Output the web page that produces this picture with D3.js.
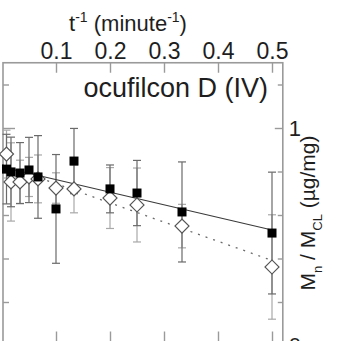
<!DOCTYPE html>
<html><head><meta charset="utf-8">
<script src="https://cdn.jsdelivr.net/npm/d3@7"></script>
<style>
html,body{margin:0;padding:0;background:#fff;}
svg{display:block;font-family:"Liberation Sans",Arial,Helvetica,sans-serif;}
</style></head>
<body>
<svg id="chart" width="338" height="341"></svg>
<script>
// ---- data ----
const tInv = [1/120, 1/60, 1/30, 1/20, 1/15, 1/10, 1/7.5, 1/5, 1/4, 1/3, 1/2];
const squareMean = [0.811, 0.798, 0.793, 0.807, 0.775, 0.628, 0.848, 0.720, 0.701, 0.614, 0.517];
const squareErr  = [0.16, 0.16, 0.14, 0.15, 0.19, 0.25, 0.15, 0.11, 0.15, 0.23, 0.28];
const diamondMean = [0.880, 0.752, 0.752, 0.775, 0.766, 0.724, 0.720, 0.678, 0.646, 0.549, 0.361];
const diamondErr  = [0.11, 0.18, 0.10, 0.09, 0.11, 0.07, 0.11, 0.14, 0.17, 0.10, 0.24];
const fitT = [0, 0.5];
const fitSquare = [0.821, 0.531];
const fitDiamond = [0.832, 0.391];
const xTicks = [0.1, 0.2, 0.3, 0.4, 0.5];
const yTicks = [0, 0.2, 0.4, 0.6, 0.8, 1.0, 1.2];
const yLabels = [0, 1];
const title = "ocufilcon D (IV)";

// ---- scales ----
const x = d3.scaleLinear().domain([0, 0.5]).range([2, 272]);
const y = d3.scaleLinear().domain([0, 1.3]).range([345.5, 62.75]);
const pL = 3, pR = x(0.52), pT = y(1.3), pB = y(0);

const svg = d3.select("#chart");
const frameColor = "#9a9a9a";
const textColor = "#1e1e1e";

// frame
svg.append("rect").attr("x", pL).attr("y", pT)
  .attr("width", pR - pL).attr("height", pB - pT)
  .attr("fill", "none").attr("stroke", frameColor).attr("stroke-width", 1.6);

// top axis (ticks point inward)
const gTop = svg.append("g").attr("transform", `translate(0,${pT})`)
  .call(d3.axisTop(x).tickValues(xTicks).tickSize(-10).tickPadding(4)
        .tickFormat(d3.format(".1f")));
gTop.select(".domain").remove();
gTop.selectAll("line").attr("stroke", frameColor).attr("stroke-width", 1.4);
gTop.selectAll("text").attr("font-size", 23).attr("fill", textColor)
  .attr("font-family", "Liberation Sans, Arial, sans-serif");

// bottom axis ticks (inward)
const gBot = svg.append("g").attr("transform", `translate(0,${pB})`)
  .call(d3.axisBottom(x).tickValues(xTicks).tickSize(-14).tickFormat(""));
gBot.select(".domain").remove();
gBot.selectAll("line").attr("stroke", frameColor).attr("stroke-width", 1.4);

// left axis ticks (inward)
const gLeft = svg.append("g").attr("transform", `translate(${pL},0)`)
  .call(d3.axisLeft(y).tickValues(yTicks).tickSize(-6).tickFormat(""));
gLeft.select(".domain").remove();
gLeft.selectAll("line").attr("stroke", frameColor).attr("stroke-width", 1.4)
  .attr("x2", d => yLabels.includes(d) ? 12 : 6);

// right axis (inward ticks, labels outside)
const gRight = svg.append("g").attr("transform", `translate(${pR},0)`)
  .call(d3.axisRight(y).tickValues(yTicks).tickSize(-5).tickPadding(6)
        .tickFormat(d => yLabels.includes(d) ? d3.format("d")(d) : ""));
gRight.select(".domain").remove();
gRight.selectAll("line").attr("stroke", frameColor).attr("stroke-width", 1.4)
  .attr("x2", d => yLabels.includes(d) ? -8 : -5);
gRight.selectAll("text").attr("font-size", 22).attr("fill", textColor)
  .attr("font-family", "Liberation Sans, Arial, sans-serif");

// top axis title
const tt = svg.append("text").attr("x", 128).attr("y", 31).attr("text-anchor", "middle")
  .attr("font-size", 22).attr("fill", textColor);
tt.append("tspan").text("t");
tt.append("tspan").attr("dy", -9).attr("font-size", 14).text("-1");
tt.append("tspan").attr("dy", 9).text(" (minute");
tt.append("tspan").attr("dy", -9).attr("font-size", 14).text("-1");
tt.append("tspan").attr("dy", 9).text(")");

// right axis title
const rt = svg.append("text").attr("transform", `translate(315,213) rotate(-90)`)
  .attr("text-anchor", "middle").attr("font-size", 21).attr("fill", textColor);
rt.append("tspan").text("M");
rt.append("tspan").attr("dy", 7).attr("font-size", 13).text("n");
rt.append("tspan").attr("dy", -7).text(" / M");
rt.append("tspan").attr("dy", 7).attr("font-size", 13).text("CL");
rt.append("tspan").attr("dy", -7).text(" (\u00b5g/mg)");

// panel title
svg.append("text").attr("x", 268).attr("y", 97).attr("text-anchor", "end")
  .attr("font-size", 27).attr("fill", textColor).text(title);

// error bars
function errBars(means, errs, color) {
  const g = svg.append("g").attr("stroke", color).attr("stroke-width", 1.2).attr("fill", "none");
  tInv.forEach((t, i) => {
    const cx = x(t), y1 = y(means[i] + errs[i]), y2 = y(means[i] - errs[i]);
    g.append("line").attr("x1", cx).attr("x2", cx).attr("y1", y1).attr("y2", y2);
    g.append("line").attr("x1", cx - 4).attr("x2", cx + 4).attr("y1", y1).attr("y2", y1);
    g.append("line").attr("x1", cx - 4).attr("x2", cx + 4).attr("y1", y2).attr("y2", y2);
  });
}
errBars(diamondMean, diamondErr, "#a8a8a8");
errBars(squareMean, squareErr, "#6a6a6a");

// fit lines
const line = d3.line().x(d => x(d[0])).y(d => y(d[1]));
svg.append("path").datum(fitT.map((t, i) => [t, fitSquare[i]]))
  .attr("d", line).attr("stroke", "#3a3a3a").attr("stroke-width", 1.1).attr("fill", "none");
svg.append("path").datum(fitT.map((t, i) => [t, fitDiamond[i]]))
  .attr("d", line).attr("stroke", "#6a6a6a").attr("stroke-width", 1.3)
  .attr("stroke-dasharray", "2,6").attr("fill", "none");

// diamonds
svg.append("g").selectAll("path").data(tInv).join("path")
  .attr("transform", (t, i) => `translate(${x(t)},${y(diamondMean[i])}) rotate(45)`)
  .attr("d", d3.symbol().type(d3.symbolSquare).size(98))
  .attr("fill", "#fff").attr("stroke", "#555").attr("stroke-width", 1.2);

// squares
svg.append("g").selectAll("rect").data(tInv).join("rect")
  .attr("x", t => x(t) - 4.5).attr("y", (t, i) => y(squareMean[i]) - 4.5)
  .attr("width", 9).attr("height", 9).attr("fill", "#000");
</script>
</body></html>
